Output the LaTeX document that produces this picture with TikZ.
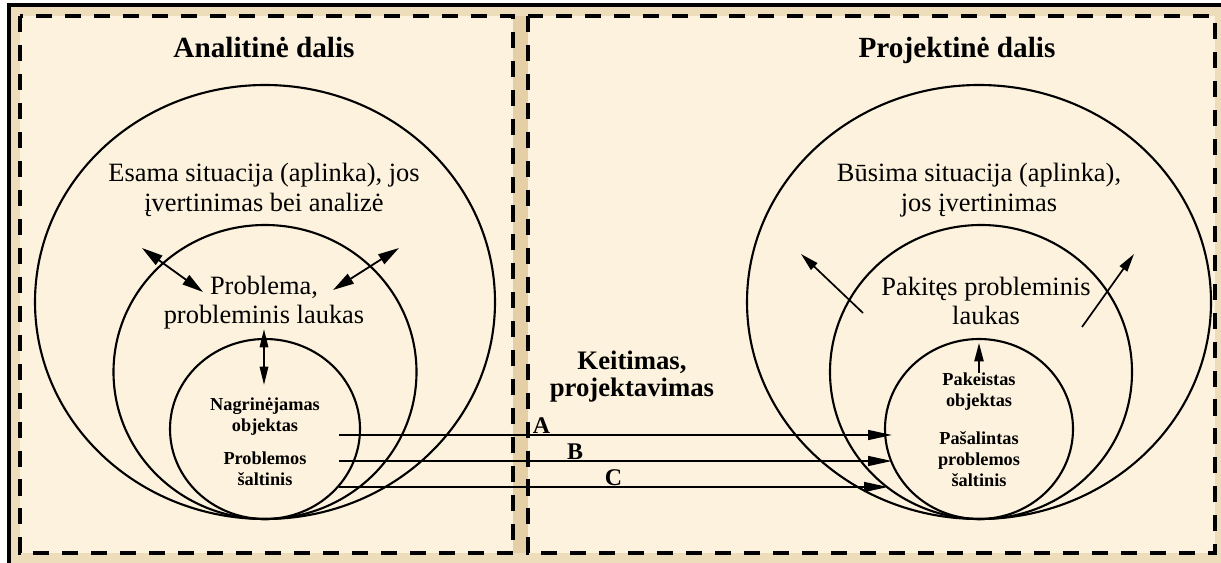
\documentclass[tikz,border=0pt]{standalone}
\usepackage{fontspec}
\setmainfont{Liberation Serif}
\usepackage{tikz}
\usetikzlibrary{arrows.meta,calc,positioning}
\definecolor{dgPaper}{RGB}{252,242,221}
\definecolor{dgTan}{RGB}{238,221,186}
\definecolor{dgGap}{RGB}{229,207,167}
\newcommand{\dalisbox}[2]{%
  \fill[dgPaper] #1 rectangle #2;
  \draw[line width=2.8pt,dash pattern=on 11.4pt off 9.2pt] #1 rectangle #2;
}

\begin{document}
\begin{tikzpicture}[x=0.025cm,y=-0.025cm,
  ring/.style={line width=1.5pt},
  twoway/.style={line width=1.3pt,{Triangle[length=15pt,width=8pt]}-{Triangle[length=15pt,width=8pt]}},
  updown/.style={line width=1.3pt,{Triangle[length=13pt,width=6pt]}-{Triangle[length=13pt,width=6pt]}},
  oneway/.style={line width=1.2pt,-{Triangle[length=13pt,width=6.5pt]}},
  change/.style={line width=1.3pt,-{Triangle[length=17pt,width=7pt]}},
  title/.style={anchor=base,inner sep=0pt,font=\fontsize{20.8}{23}\selectfont\bfseries},
  maintext/.style={align=center,inner sep=0pt,font=\fontsize{18.8}{21}\selectfont},
  midtext/.style={align=center,inner sep=0pt,font=\fontsize{19}{19.2}\selectfont\bfseries},
  smalltext/.style={align=center,inner sep=0pt,font=\fontsize{13}{15}\selectfont\bfseries},
  letter/.style={anchor=base,inner sep=0pt,font=\fontsize{17}{19}\selectfont\bfseries}]
  \useasboundingbox (0,0) rectangle (1221,563);
  \fill[white] (0,0) rectangle (1221,563);
  \fill[dgTan] (9,5) rectangle (1221,563);
  \fill[dgGap] (513,16) rectangle (528,553);
  \draw[line width=2.2pt] (9,563) -- (9,5) -- (1221,5);
  \dalisbox{(20,16)}{(513,553)}
  \dalisbox{(528,16)}{(1215,553)}
  \draw[ring] (265,302) ellipse [x radius=230,y radius=217];
  \draw[ring] (265,372) ellipse [x radius=151.5,y radius=147];
  \draw[ring] (265,429) ellipse [x radius=95,y radius=90];
  \draw[ring] (979,302) ellipse [x radius=232,y radius=217];
  \draw[ring] (981,372) ellipse [x radius=151,y radius=147];
  \draw[ring] (979,429) ellipse [x radius=94,y radius=90];
  \node[title] (analitine) at (264,58) {Analitinė dalis};
  \node[title] (projektine) at (957,58) {Projektinė dalis};
  \node[maintext] (esama) at (264,190) {Esama situacija (aplinka), jos\\įvertinimas bei analizė};
  \node[maintext] (problema) at (264,302.5) {Problema,\\probleminis laukas};
  \node[smalltext] (nagrinejamas) at (265,417) {Nagrinėjamas\\objektas};
  \node[smalltext] (saltinis) at (265,469) {Problemos\\šaltinis};
  \node[maintext] (busima) at (979,190) {Būsima situacija (aplinka),\\jos įvertinimas};
  \node[maintext] (pakites) at (986,301) {Pakitęs probleminis\\laukas};
  \node[smalltext] (pakeistas) at (979,392) {Pakeistas\\objektas};
  \node[smalltext] (pasalintas) at (979,459) {Pašalintas\\problemos\\šaltinis};
  \node[midtext] (keitimas) at (632,377) {Keitimas,\\projektavimas};
  \node[letter] (raideA) at (541.5,433) {A};
  \node[letter] (raideB) at (575,459) {B};
  \node[letter] (raideC) at (613.5,485) {C};
  \coordinate (P1) at (142,248);
  \coordinate (P2) at (203,292);
  \coordinate (P3) at (333,290);
  \coordinate (P4) at (399,248);
  \coordinate (P5) at (264,329);
  \coordinate (P6) at (264,385);
  \draw[twoway] (P1) -- (P2);
  \draw[twoway] (P3) -- (P4);
  \draw[updown] (P5) -- (P6);
  \coordinate (Q1) at (863,313);
  \coordinate (Q2) at (801,254);
  \coordinate (Q3) at (1082,327);
  \coordinate (Q4) at (1134,254);
  \coordinate (Q5) at (979,373);
  \coordinate (Q6) at (979,343);
  \draw[oneway] (Q1) -- (Q2);
  \draw[oneway] (Q3) -- (Q4);
  \draw[oneway] (Q5) -- (Q6);
  \coordinate (A1) at (339,435);
  \coordinate (A2) at (892,435);
  \coordinate (B1) at (339,461);
  \coordinate (B2) at (892,461);
  \coordinate (C1) at (339,487);
  \coordinate (C2) at (888,487);
  \draw[change] (A1) -- (A2);
  \draw[change] (B1) -- (B2);
  \draw[change] (C1) -- (C2);
\end{tikzpicture}
\end{document}
